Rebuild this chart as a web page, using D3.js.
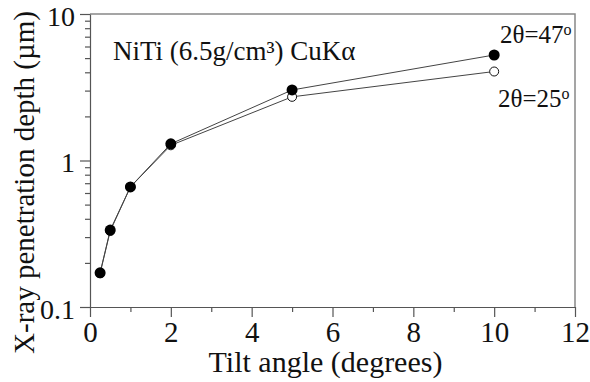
<!DOCTYPE html>
<html>
<head>
<meta charset="utf-8">
<script src="https://cdn.jsdelivr.net/npm/d3@7"></script>
<style>
  body { margin: 0; background: #fff; }
</style>
</head>
<body>
<script>
// data
let tilt = [0.25, 0.5, 1, 2, 5, 10];
let depth47 = [0.171, 0.335, 0.66, 1.30, 3.03, 5.25];
let depth25 = [0.170, 0.330, 0.66, 1.27, 2.72, 4.05];
let xTicks = [0, 2, 4, 6, 8, 10, 12];
let yTicks = [0.1, 1, 10];

let w = 590, h = 382;
let padL = 90, padR = 575, padT = 14, padB = 307;
let serif = 'Liberation Serif, Times New Roman, Times, DejaVu Serif, serif';

let svg = d3.select('body').append('svg')
	.attr('width', w)
	.attr('height', h)
	.style('font-family', serif);

let x = d3.scaleLinear().domain([0, 12]).range([padL, padR]);
let y = d3.scaleLog().domain([0.1, 10]).range([padB, padT]);

// frame (top and right side)
svg.append('path')
	.attr('d', 'M' + padL + ',' + padT + 'H' + padR + 'V' + padB)
	.attr('fill', 'none')
	.attr('stroke', '#888')
	.attr('stroke-width', 1.5);

// x axis, major ticks then minor
let xAxis = svg.append('g')
	.attr('transform', 'translate(0,' + padB + ')')
	.call(d3.axisBottom(x).tickValues(xTicks).tickSize(10).tickSizeOuter(0).tickPadding(4));
xAxis.selectAll('text').attr('font-size', 29).attr('dy', '0.72em');
svg.append('g')
	.attr('transform', 'translate(0,' + padB + ')')
	.call(d3.axisBottom(x).tickValues([1, 3, 5, 7, 9, 11]).tickSize(5).tickFormat(''))
	.select('.domain').remove();

// y axis
let minorY = [];
[0.1, 1].forEach(d => { for (let k = 2; k <= 9; k++) minorY.push(d * k); });
let yAxis = svg.append('g')
	.attr('transform', 'translate(' + padL + ',0)')
	.call(d3.axisLeft(y).tickValues(yTicks).tickFormat(d3.format('')).tickSize(10).tickSizeOuter(0).tickPadding(5));
yAxis.selectAll('text').attr('font-size', 28).attr('dy', '0.4em');
svg.append('g')
	.attr('transform', 'translate(' + padL + ',0)')
	.call(d3.axisLeft(y).tickValues(minorY).tickSize(5).tickFormat(''))
	.select('.domain').remove();

svg.selectAll('g').attr('font-family', null);
svg.selectAll('.domain, .tick line').attr('stroke', '#555').attr('stroke-width', 1.2);

// lines
let line = d3.line().x((d, i) => x(tilt[i])).y(d => y(d));
[depth25, depth47].forEach(s => {
	svg.append('path')
		.datum(s)
		.attr('d', line)
		.attr('fill', 'none')
		.attr('stroke', '#444')
		.attr('stroke-width', 1);
});

// markers
svg.selectAll('.open').data(depth25).enter().append('circle')
	.attr('cx', (d, i) => x(tilt[i]))
	.attr('cy', d => y(d))
	.attr('r', 4.5)
	.attr('fill', '#fff')
	.attr('stroke', '#111')
	.attr('stroke-width', 1);
svg.selectAll('.filled').data(depth47).enter().append('circle')
	.attr('cx', (d, i) => x(tilt[i]))
	.attr('cy', d => y(d))
	.attr('r', 5.5)
	.attr('fill', '#000');

// axis titles
svg.append('text')
	.attr('x', (padL + padR) / 2 - 7)
	.attr('y', 372)
	.attr('text-anchor', 'middle')
	.attr('font-size', 30)
	.text('Tilt angle (degrees)');
svg.append('text')
	.attr('transform', 'translate(34,' + ((padT + padB) / 2 + 22) + ') rotate(-90)')
	.attr('text-anchor', 'middle')
	.attr('font-size', 29)
	.text('X-ray penetration depth (µm)');

// annotations
svg.append('text')
	.attr('x', 113).attr('y', 60)
	.attr('font-size', 27)
	.text('NiTi (6.5g/cm³) CuKα');

let lab = svg.append('text').attr('x', 500).attr('y', 43).attr('font-size', 25);
lab.append('tspan').text('2θ=47');
lab.append('tspan').attr('font-size', 16).attr('dy', -8).text('o');
let lab2 = svg.append('text').attr('x', 498).attr('y', 107).attr('font-size', 25);
lab2.append('tspan').text('2θ=25');
lab2.append('tspan').attr('font-size', 16).attr('dy', -8).text('o');

// every text in the same serif face
svg.selectAll('text').attr('fill', '#111').style('font-family', serif);
</script>
</body>
</html>
